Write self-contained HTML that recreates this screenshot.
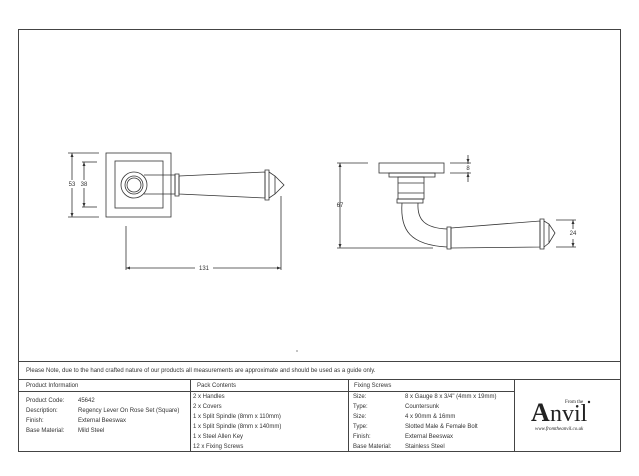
<!DOCTYPE html>
<html><head><style>html,body{margin:0;padding:0;background:#fff}svg{display:block}</style></head><body>
<svg width="639" height="476" viewBox="0 0 639 476" xmlns="http://www.w3.org/2000/svg" font-family="Liberation Sans, sans-serif">
<g fill="none" stroke="#444" stroke-width="1">
<rect x="18.5" y="29.5" width="602" height="422"/>
<line x1="18.5" y1="361.5" x2="620.5" y2="361.5"/>
<line x1="18.5" y1="379.5" x2="620.5" y2="379.5"/>
<line x1="18.5" y1="391.5" x2="514.5" y2="391.5"/>
<line x1="190.5" y1="379.5" x2="190.5" y2="451"/>
<line x1="348.5" y1="379.5" x2="348.5" y2="451"/>
<line x1="514.5" y1="379.5" x2="514.5" y2="451"/>
</g>
<g font-size="6" fill="#333">
<text x="26" y="372">Please Note, due to the hand crafted nature of our products all measurements are approximate and should be used as a guide only.</text>
<text x="26" y="387">Product Information</text>
<text x="197" y="387">Pack Contents</text>
<text x="354" y="387">Fixing Screws</text>
<text x="26" y="402">Product Code:</text><text x="78" y="402">45642</text>
<text x="26" y="412">Description:</text><text x="78" y="412">Regency Lever On Rose Set (Square)</text>
<text x="26" y="422">Finish:</text><text x="78" y="422">External Beeswax</text>
<text x="26" y="432">Base Material:</text><text x="78" y="432">Mild Steel</text>
<text x="193" y="398">2 x Handles</text>
<text x="193" y="408">2 x Covers</text>
<text x="193" y="418">1 x Split Spindle (8mm x 110mm)</text>
<text x="193" y="428">1 x Split Spindle (8mm x 140mm)</text>
<text x="193" y="438">1 x Steel Allen Key</text>
<text x="193" y="448">12 x Fixing Screws</text>
<text x="353" y="398">Size:</text><text x="405" y="398">8 x Gauge 8 x 3/4" (4mm x 19mm)</text>
<text x="353" y="408">Type:</text><text x="405" y="408">Countersunk</text>
<text x="353" y="418">Size:</text><text x="405" y="418">4 x 90mm &amp; 16mm</text>
<text x="353" y="428">Type:</text><text x="405" y="428">Slotted Male &amp; Female Bolt</text>
<text x="353" y="438">Finish:</text><text x="405" y="438">External Beeswax</text>
<text x="353" y="448">Base Material:</text><text x="405" y="448">Stainless Steel</text>
</g>
<!-- logo -->
<g fill="#222">
<text x="531" y="421" font-family="Liberation Serif, serif" font-size="26" font-weight="bold">A</text>
<text x="550" y="421" font-family="Liberation Serif, serif" font-size="24">nvil</text>
<text x="565" y="403" font-family="Liberation Serif, serif" font-size="5">From the</text>
<circle cx="589" cy="402" r="1.2"/>
<text x="535" y="430" font-family="Liberation Serif, serif" font-size="5" font-style="italic">www.fromtheanvil.co.uk</text>
</g>
<!-- left drawing -->
<g fill="none" stroke="#333" stroke-width="0.8">
<rect x="106" y="153" width="65" height="64"/>
<rect x="115" y="161" width="48" height="47"/>
<circle cx="134" cy="185" r="13"/>
<circle cx="134" cy="185" r="9"/>
<circle cx="134" cy="185" r="7"/>
<path d="M144 175 H175 V194 H144"/>
<path d="M175 174 h4 v22 h-4 z"/>
<path d="M179 176 L265 172 V198 L179 194 Z"/>
<path d="M265 170 h4 v30 h-4 z"/>
<path d="M269 172 L275 176 L284 185 L275 194 L269 198"/>
<line x1="275" y1="176" x2="275" y2="194"/>
<line x1="72" y1="153" x2="72" y2="217"/>
<line x1="68" y1="153" x2="99" y2="153"/><line x1="68" y1="217" x2="99" y2="217"/>
<line x1="84" y1="162" x2="84" y2="207"/>
<line x1="82" y1="162" x2="97" y2="162"/><line x1="82" y1="207" x2="97" y2="207"/>
<line x1="126" y1="226" x2="126" y2="270"/>
<line x1="281" y1="196" x2="281" y2="270"/>
<line x1="126" y1="268" x2="195" y2="268"/><line x1="213" y1="268" x2="281" y2="268"/>
</g>
<g fill="#333">
<path d="M72 153 l-1.5 4 h3z M72 217 l-1.5 -4 h3z M84 162 l-1.5 4 h3z M84 207 l-1.5 -4 h3z M126 268 l4 -1.5 v3z M281 268 l-4 -1.5 v3z"/>
</g>
<g font-size="6" fill="#333" text-anchor="middle">
<rect x="67" y="180" width="10" height="8" fill="#fff"/><text x="72" y="186">53</text>
<rect x="79" y="180" width="10" height="8" fill="#fff"/><text x="84" y="186">38</text>
<text x="204" y="270">131</text>
<text x="340" y="207">67</text>
<text x="468" y="170">8</text>
<text x="573" y="235">24</text>
</g>
<!-- right drawing -->
<g fill="none" stroke="#333" stroke-width="0.8">
<rect x="379" y="163" width="65" height="10"/>
<rect x="389" y="173" width="46" height="4"/>
<rect x="398" y="177" width="26" height="22"/>
<line x1="398" y1="183" x2="424" y2="183"/><line x1="398" y1="193" x2="424" y2="193"/>
<rect x="397" y="199" width="26" height="4"/>
<path d="M402 203 C400 230 410 245 447 247"/>
<path d="M418 203 C417 220 425 228 447 229"/>
<path d="M447 227 h4 v22 h-4 z"/>
<path d="M451 228 L540 221 V247 L451 248 Z"/>
<path d="M540 219 h4 v30 h-4 z"/>
<path d="M544 221 L549 224 L555 233 L549 243 L544 247"/>
<line x1="549" y1="224" x2="549" y2="243"/>
<line x1="340" y1="163" x2="340" y2="248"/>
<line x1="337" y1="163" x2="368" y2="163"/>
<line x1="337" y1="248" x2="433" y2="248"/>
<line x1="468" y1="155" x2="468" y2="164"/><line x1="468" y1="172" x2="468" y2="182"/>
<line x1="450" y1="163" x2="471" y2="163"/><line x1="450" y1="173" x2="471" y2="173"/>
<line x1="573" y1="220" x2="573" y2="229"/><line x1="573" y1="239" x2="573" y2="247"/>
<line x1="556" y1="220" x2="576" y2="220"/><line x1="556" y1="247" x2="576" y2="247"/>
</g>
<g fill="#333">
<path d="M340 163 l-1.5 4 h3z M340 248 l-1.5 -4 h3z M468 163 l-1.5 -4 h3z M468 173 l-1.5 4 h3z M573 220 l-1.5 4 h3z M573 247 l-1.5 -4 h3z"/>
<circle cx="297" cy="351" r="0.6"/>
</g>
</svg>
</body></html>
